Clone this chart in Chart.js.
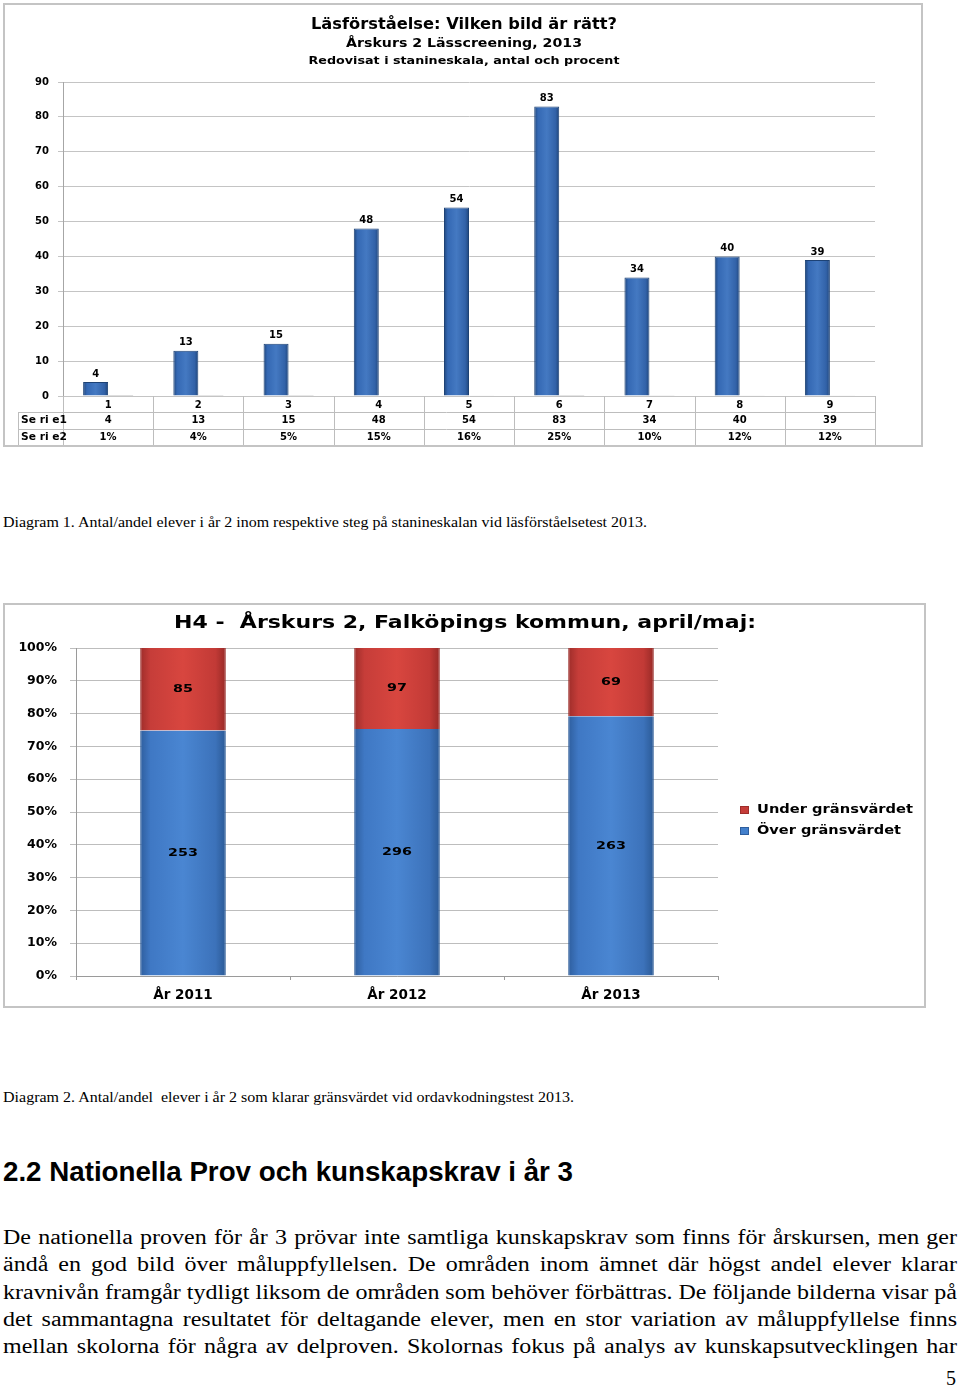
<!DOCTYPE html>
<html>
<head>
<meta charset="utf-8">
<script src="https://cdn.jsdelivr.net/npm/chart.js@4.4.1/dist/chart.umd.min.js"></script>
<style>
    body { margin: 0; background: #fff; width: 960px; height: 1390px; position: relative; overflow: hidden; }
    .box { position: absolute; border: 2px solid #c4c4c4; box-sizing: border-box; background: #fff; }
    .box canvas { display: block; }
    .t { position: absolute; left: 3px; white-space: pre; font-family: "Liberation Serif", serif; color: #000; transform-origin: 0 0; }
    .h { font-family: "Liberation Sans", Arial, sans-serif; font-weight: bold; }
</style>
</head>
<body>

<div class="box" style="left:3px; top:3px; width:920px; height:444px;">
    <canvas id="chart-stanine" width="916" height="440"></canvas>
</div>

<div class="t" id="cap1" data-w="644" style="top:515px; font-size:15px; line-height:15px;">Diagram 1. Antal/andel elever i år 2 inom respektive steg på stanineskalan vid läsförståelsetest 2013.</div>

<div class="box" style="left:3px; top:603px; width:923px; height:405px;">
    <canvas id="chart-h4" width="919" height="401"></canvas>
</div>

<div class="t" id="cap2" data-w="571" style="top:1090px; font-size:15px; line-height:15px;">Diagram 2. Antal/andel  elever i år 2 som klarar gränsvärdet vid ordavkodningstest 2013.</div>

<div class="t h" id="rubrik" data-w="570" style="top:1158px; font-size:28px; line-height:28px;">2.2 Nationella Prov och kunskapskrav i år 3</div>

<div class="t j" data-w="954" style="top:1227px; font-size:20px; line-height:20px;">De nationella proven för år 3 prövar inte samtliga kunskapskrav som finns för årskursen, men ger</div>
<div class="t j" data-w="954" style="top:1254px; font-size:20px; line-height:20px;">ändå en god bild över måluppfyllelsen. De områden inom ämnet där högst andel elever klarar</div>
<div class="t j" data-w="954" style="top:1282px; font-size:20px; line-height:20px;">kravnivån framgår tydligt liksom de områden som behöver förbättras. De följande bilderna visar på</div>
<div class="t j" data-w="954" style="top:1309px; font-size:20px; line-height:20px;">det sammantagna resultatet för deltagande elever, men en stor variation av måluppfyllelse finns</div>
<div class="t j" data-w="954" style="top:1336px; font-size:20px; line-height:20px;">mellan skolorna för några av delproven. Skolornas fokus på analys av kunskapsutvecklingen har</div>

<div class="t" style="left:auto; right:4px; top:1368px; font-size:20px; line-height:20px;">5</div>

<script>
// ---- diagram 1 : stanine ----
const stanine = ['1', '2', '3', '4', '5', '6', '7', '8', '9'];
const antal = [4, 13, 15, 48, 54, 83, 34, 40, 39];
const andel = [1, 4, 5, 15, 16, 25, 10, 12, 12]; // procent
const serier = ['Se ri e1', 'Se ri e2'];
const titel1 = ['Läsförståelse: Vilken bild är rätt?', 'Årskurs 2 Lässcreening, 2013', 'Redovisat i stanineskala, antal och procent'];

// ---- diagram 2 : H4 ----
const years = ['År 2011', 'År 2012', 'År 2013'];
const over = [253, 296, 263];
const under = [85, 97, 69];
const titel2 = 'H4 -  Årskurs 2, Falköpings kommun, april/maj:';

const FONT = '"DejaVu Sans", sans-serif';
Chart.defaults.font.family = FONT;
Chart.defaults.font.weight = 'bold';
Chart.defaults.color = '#000';
Chart.defaults.animation = false;

// text squeezed/stretched to a given width
function fitText(ctx, text, x, y, w, font, align) {
    ctx.save();
    ctx.font = font;
    let m = ctx.measureText(text).width;
    ctx.translate(x, y);
    ctx.scale(w / m, 1);
    ctx.textAlign = align || 'center';
    ctx.textBaseline = 'middle';
    ctx.fillStyle = '#000';
    ctx.fillText(text, 0, 0);
    ctx.restore();
}

function barGradient(ctx, c, w, stops) {
    let g = ctx.createLinearGradient(c - w / 2, 0, c + w / 2, 0);
    stops.forEach(function (s) { g.addColorStop(s[0], s[1]); });
    return g;
}

const blue1 = [[0, '#1f457a'], [0.15, '#3468b3'], [0.5, '#4479c2'], [0.85, '#3262a8'], [1, '#1f457a']];
const blue2 = [[0, '#2e5e9e'], [0.12, '#3f78c4'], [0.5, '#4a86d2'], [0.88, '#3c72ba'], [1, '#2b5a96']];
const red2 = [[0, '#9e2d2a'], [0.12, '#c63d39'], [0.5, '#d8463f'], [0.88, '#c23a36'], [1, '#982a27']];


//_____ diagram 1 _____
const titles1 = {
    id: 'titles1',
    afterDraw(chart) {
        let ctx = chart.ctx;
        fitText(ctx, titel1[0], 459, 20, 306, 'bold 15px ' + FONT);
        fitText(ctx, titel1[1], 459, 39, 236, 'bold 13px ' + FONT);
        fitText(ctx, titel1[2], 459, 56, 311, 'bold 11px ' + FONT);
    }
};

const table1 = {
    id: 'table1',
    afterDraw(chart) {
        let ctx = chart.ctx;
        let xs = chart.scales.x;
        let area = chart.chartArea;
        let rows = [area.bottom, area.bottom + 16, area.bottom + 33, area.bottom + 50];
        let colW = xs.width / stanine.length;

        ctx.save();
        ctx.strokeStyle = '#bdbdbd';
        ctx.lineWidth = 1;
        ctx.beginPath();
        [1, 2, 3].forEach(function (r) {
            ctx.moveTo(13, Math.round(rows[r]) + 0.5);
            ctx.lineTo(area.right, Math.round(rows[r]) + 0.5);
        });
        for (let i = 1; i <= stanine.length; i++) {
            let x = Math.round(area.left + i * colW) + 0.5;
            ctx.moveTo(x, rows[0]);
            ctx.lineTo(x, rows[3]);
        }
        ctx.moveTo(area.left + 0.5, rows[0]);
        ctx.lineTo(area.left + 0.5, rows[3]);
        ctx.moveTo(13.5, rows[1]);
        ctx.lineTo(13.5, rows[3]);
        ctx.stroke();

        ctx.font = 'bold 10px ' + FONT;
        ctx.fillStyle = '#000';
        ctx.textBaseline = 'middle';
        ctx.textAlign = 'center';
        stanine.forEach(function (s, i) {
            let x = xs.getPixelForValue(i);
            ctx.fillText(s, x, (rows[0] + rows[1]) / 2 + 1);
            ctx.fillText(antal[i], x, (rows[1] + rows[2]) / 2);
            ctx.fillText(andel[i] + '%', x, (rows[2] + rows[3]) / 2);
        });
        ctx.restore();
        fitText(ctx, serier[0], 16, (rows[1] + rows[2]) / 2, 46, 'bold 10px ' + FONT, 'left');
        fitText(ctx, serier[1], 16, (rows[2] + rows[3]) / 2, 46, 'bold 10px ' + FONT, 'left');
    }
};

const labels1 = {
    id: 'labels1',
    afterDatasetsDraw(chart) {
        let ctx = chart.ctx;
        ctx.save();
        ctx.font = 'bold 10px ' + FONT;
        ctx.fillStyle = '#000';
        ctx.textAlign = 'center';
        ctx.textBaseline = 'bottom';
        chart.getDatasetMeta(0).data.forEach(function (bar, i) {
            ctx.fillText(antal[i], bar.x, bar.y - 3);
        });
        ctx.restore();
    }
};

const CAT1 = 0.554;

new Chart(document.getElementById('chart-stanine'), {
    type: 'bar',
    data: {
        labels: stanine,
        datasets: [{
            label: serier[0],
            data: antal,
            categoryPercentage: CAT1,
            barPercentage: 1,
            borderColor: '#1d4275',
            borderWidth: 1,
            backgroundColor: function (c) {
                let chart = c.chart;
                if (!chart.chartArea) return '#3468b3';
                let xs = chart.scales.x;
                let w = xs.width / stanine.length * CAT1 / 2;
                return barGradient(chart.ctx, xs.getPixelForValue(c.dataIndex) - w / 2, w, blue1);
            }
        }, {
            label: serier[1],
            data: andel.map(v => v / 100),
            categoryPercentage: CAT1,
            barPercentage: 1,
            backgroundColor: '#b8b8b8'
        }]
    },
    options: {
        responsive: false,
        layout: { padding: { top: 77, right: 46, left: 0, bottom: 0 } },
        plugins: { legend: { display: false }, tooltip: { enabled: false } },
        scales: {
            x: {
                grid: { display: false },
                ticks: { display: false },
                border: { display: false },
                afterFit: function (s) { s.height = 49; }
            },
            y: {
                min: 0,
                max: 90,
                ticks: { stepSize: 10, padding: 9, font: { size: 10 } },
                grid: { color: '#c4c4c4', tickLength: 5 },
                border: { color: '#a6a6a6' },
                afterFit: function (s) { s.width = 58; }
            }
        }
    },
    plugins: [titles1, table1, labels1]
});


//_____ diagram 2 _____
const deco2 = {
    id: 'deco2',
    afterDraw(chart) {
        let ctx = chart.ctx;
        fitText(ctx, titel2, 460, 18, 582, 'bold 17.5px ' + FONT);

        // legend, Under first
        let items = [
            [chart.data.datasets[1].label, '#c63d39', '#9e2d2a', 205, 156],
            [chart.data.datasets[0].label, '#4380cc', '#2e5e9e', 226, 144]
        ];
        items.forEach(function (it) {
            ctx.save();
            ctx.fillStyle = it[1];
            ctx.fillRect(735, it[3] - 4, 9, 8);
            ctx.strokeStyle = it[2];
            ctx.strokeRect(735.5, it[3] - 3.5, 8, 7);
            ctx.restore();
            fitText(ctx, it[0], 752, it[3], it[4], 'bold 12.5px ' + FONT, 'left');
        });
    },
    afterDatasetsDraw(chart) {
        let ctx = chart.ctx;
        chart.data.datasets.forEach(function (ds, d) {
            chart.getDatasetMeta(d).data.forEach(function (bar, i) {
                let mid = (bar.y + bar.base) / 2;
                ctx.save();
                ctx.font = 'bold 11px ' + FONT;
                let w = ctx.measureText(String(ds.counts[i])).width * 1.3;
                ctx.restore();
                fitText(ctx, String(ds.counts[i]), bar.x, mid, w, 'bold 11px ' + FONT);
            });
        });
    }
};

const CAT2 = 0.4;

function h4Color(stops) {
    return function (c) {
        let chart = c.chart;
        if (!chart.chartArea) return stops[2][1];
        let xs = chart.scales.x;
        let w = xs.width / years.length * CAT2;
        return barGradient(chart.ctx, xs.getPixelForValue(c.dataIndex), w, stops);
    };
}

new Chart(document.getElementById('chart-h4'), {
    type: 'bar',
    data: {
        labels: years,
        datasets: [{
            label: 'Över gränsvärdet',
            data: over.map((v, i) => v / (v + under[i])),
            counts: over,
            categoryPercentage: CAT2,
            barPercentage: 1,
            backgroundColor: h4Color(blue2),
            borderColor: '#2b5a96',
            borderWidth: { top: 0, left: 1, right: 1, bottom: 0 }
        }, {
            label: 'Under gränsvärdet',
            data: under.map((v, i) => v / (v + over[i])),
            counts: under,
            categoryPercentage: CAT2,
            barPercentage: 1,
            backgroundColor: h4Color(red2),
            borderColor: '#982a27',
            borderWidth: { top: 0, left: 1, right: 1, bottom: 0 }
        }]
    },
    options: {
        responsive: false,
        layout: { padding: { top: 43, right: 206, left: 0, bottom: 0 } },
        plugins: { legend: { display: false }, tooltip: { enabled: false } },
        scales: {
            x: {
                stacked: true,
                grid: { display: true, drawOnChartArea: false, tickLength: 4, color: '#9a9a9a', offset: true },
                border: { color: '#9a9a9a' },
                ticks: { padding: 7, font: { size: 13.5 } },
                afterFit: function (s) { s.height = 30; }
            },
            y: {
                stacked: true,
                min: 0,
                max: 1,
                ticks: { stepSize: 0.1, padding: 13, font: { size: 12.5 }, callback: v => Math.round(v * 100) + '%' },
                grid: { color: '#bdbdbd', tickLength: 6 },
                border: { color: '#9a9a9a' },
                afterFit: function (s) { s.width = 71; }
            }
        }
    },
    plugins: [deco2]
});


//_____ text widths as in the scanned page _____
document.querySelectorAll('.t[data-w]:not(.j)').forEach(function (el) {
    let target = parseFloat(el.dataset.w);
    let natural = el.getBoundingClientRect().width;
    el.style.transform = 'scaleX(' + (target / natural) + ')';
});

// justified lines: one common stretch, then spaces fill each line
let lines = Array.from(document.querySelectorAll('.t.j'));
let widths = lines.map(el => el.getBoundingClientRect().width);
let stretch = 954 / Math.max.apply(null, widths);
lines.forEach(function (el, k) {
    let spaces = (el.textContent.match(/ /g) || []).length;
    let extra = 954 / stretch - widths[k];
    el.style.wordSpacing = (extra / spaces) + 'px';
    el.style.transform = 'scaleX(' + stretch + ')';
});
</script>
</body>
</html>
